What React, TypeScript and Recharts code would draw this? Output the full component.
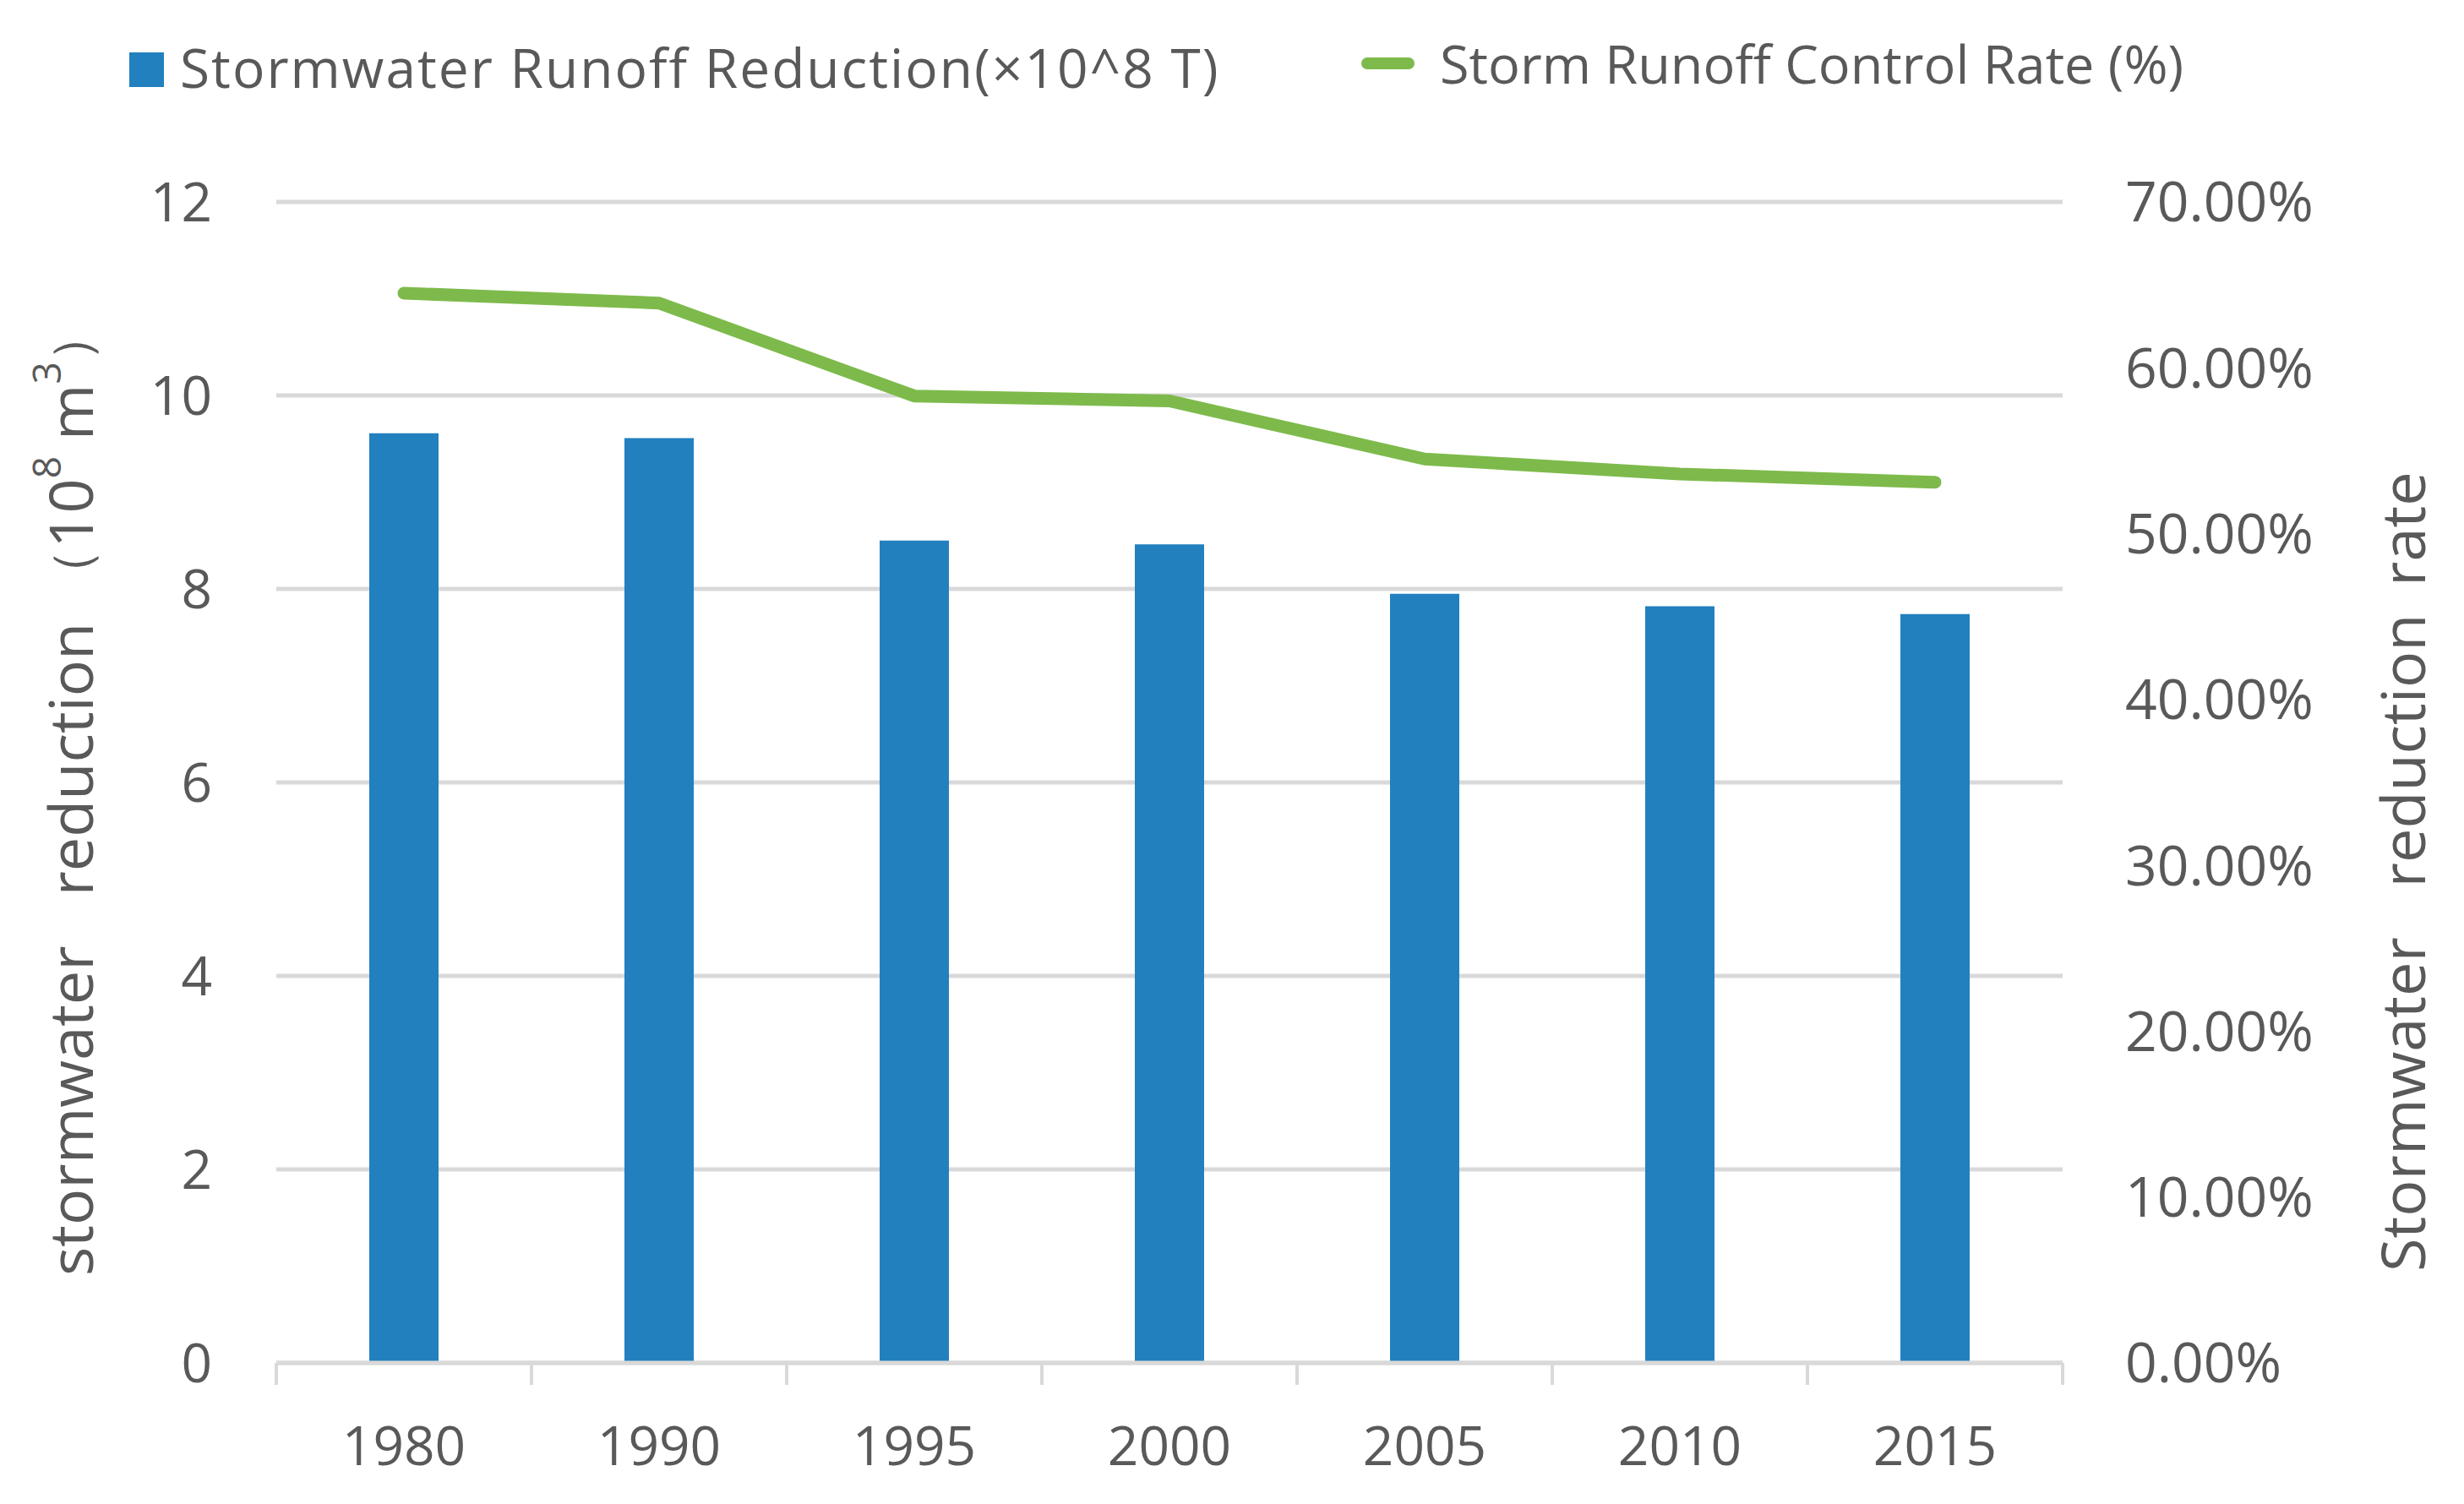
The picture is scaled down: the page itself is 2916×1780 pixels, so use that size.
import React from 'react';
import { ComposedChart, Bar, Line, XAxis, YAxis, CartesianGrid, Legend } from 'recharts';

const years = ['1980', '1990', '1995', '2000', '2005', '2010', '2015'];
const runoffReduction = [9.61, 9.56, 8.5, 8.46, 7.95, 7.82, 7.74];
const controlRate = [64.5, 63.9, 58.3, 58.0, 54.5, 53.6, 53.1];
const leftTicks = [0, 2, 4, 6, 8, 10, 12];
const rightTicks = [0, 10, 20, 30, 40, 50, 60, 70];

const data = years.map((year, i) => ({
  year,
  reduction: runoffReduction[i],
  rate: controlRate[i],
}));

const BLUE = '#2280bf';
const GREEN = '#7dba4b';
const TEXT = '#595959';
const GRID = '#d9d9d9';
const FONT = '"Open Sans", "Noto Sans", sans-serif';

const YearTick = (props: any) => {
  const { x, y, payload, index } = props;
  const off = payload?.offset ?? 151;
  return (
    <g>
      <line x1={x - off} y1={y} x2={x - off} y2={y + 26} stroke={GRID} strokeWidth={4} />
      {index === years.length - 1 && (
        <line x1={x + off} y1={y} x2={x + off} y2={y + 26} stroke={GRID} strokeWidth={4} />
      )}
      <text x={x} y={y + 99} dy="0.35em" textAnchor="middle" fill={TEXT} fontSize={64} fontFamily={FONT}>
        {payload.value}
      </text>
    </g>
  );
};

// rotated titles start at the bottom and read upwards
const LeftTitle = () => {
  const cy = 1502;
  const cx = 74;
  return (
    <text
      x={cx}
      y={cy}
      transform={`rotate(-90 ${cx} ${cy})`}
      textAnchor="start"
      dominantBaseline="central"
      fill={TEXT}
      fontSize={72}
      fontFamily={FONT}
    >
      stormwater
      <tspan dx={40}> reduction</tspan>
      <tspan dx={10} fontSize={62}> （</tspan>
      <tspan>10</tspan>
      <tspan dy={-28} fontSize={46}>8</tspan>
      <tspan dy={28}> m</tspan>
      <tspan dy={-28} fontSize={46}>3</tspan>
      <tspan dy={28} fontSize={62}>）</tspan>
    </text>
  );
};

const RightTitle = () => {
  const cy = 1497;
  const cx = 2834;
  return (
    <text
      x={cx}
      y={cy}
      transform={`rotate(-90 ${cx} ${cy})`}
      textAnchor="start"
      dominantBaseline="central"
      fill={TEXT}
      fontSize={72}
      fontFamily={FONT}
    >
      Stormwater
      <tspan dx={40}> reduction</tspan>
      <tspan dx={14}> rate</tspan>
    </text>
  );
};

const ChartLegend = () => (
  <div style={{ position: 'relative', width: 2900, height: 140, fontFamily: FONT, color: TEXT }}>
    <div style={{ position: 'absolute', left: 145, top: 54, width: 41, height: 41, background: BLUE }} />
    <div
      style={{
        position: 'absolute',
        left: 205,
        top: 72,
        transform: 'translateY(-50%)',
        whiteSpace: 'nowrap',
        lineHeight: 1,
        fontSize: 64,
        letterSpacing: 2,
      }}
    >
      Stormwater Runoff Reduction(×10^8 T)
    </div>
    <div style={{ position: 'absolute', left: 1603, top: 60, width: 63, height: 14, borderRadius: 7, background: GREEN }} />
    <div
      style={{
        position: 'absolute',
        left: 1696,
        top: 66,
        transform: 'translateY(-50%)',
        whiteSpace: 'nowrap',
        lineHeight: 1,
        fontSize: 63,
      }}
    >
      Storm Runoff Control Rate (%)
    </div>
  </div>
);

export default function App() {
  return (
    <div style={{ width: 2900, height: 1764, background: '#fff' }}>
      <ComposedChart width={2900} height={1764} data={data} margin={{ top: 231, right: 0, bottom: 0, left: 0 }}>
        <CartesianGrid vertical={false} stroke={GRID} strokeWidth={5} yAxisId="left" />
        <XAxis
          dataKey="year"
          height={159}
          tickLine={false}
          tickSize={0}
          tickMargin={0}
          axisLine={{ stroke: GRID, strokeWidth: 5 }}
          tick={<YearTick />}
          interval={0}
        />
        <YAxis
          yAxisId="left"
          orientation="left"
          width={319}
          domain={[0, 12]}
          ticks={leftTicks}
          axisLine={false}
          tickLine={false}
          tickSize={0}
          tickMargin={76}
          tick={{ fill: TEXT, fontSize: 64, fontFamily: FONT }}
          label={<LeftTitle />}
        />
        <YAxis
          yAxisId="right"
          orientation="right"
          width={467}
          domain={[0, 70]}
          ticks={rightTicks}
          axisLine={false}
          tickLine={false}
          tickSize={0}
          tickMargin={74}
          tickFormatter={(v: number) => `${v.toFixed(2)}%`}
          tick={{ fill: TEXT, fontSize: 66, fontFamily: FONT, textAnchor: 'start' }}
          label={<RightTitle />}
        />
        <Legend
          verticalAlign="middle"
          layout="horizontal"
          content={<ChartLegend />}
          wrapperStyle={{ position: 'absolute', top: 0, left: 0, width: 2900 }}
        />
        <Bar yAxisId="left" dataKey="reduction" fill={BLUE} barSize={82} isAnimationActive={false} />
        <Line
          yAxisId="right"
          type="linear"
          dataKey="rate"
          stroke={GREEN}
          strokeWidth={15}
          strokeLinecap="round"
          strokeLinejoin="round"
          dot={false}
          activeDot={false}
          isAnimationActive={false}
        />
      </ComposedChart>
    </div>
  );
}
